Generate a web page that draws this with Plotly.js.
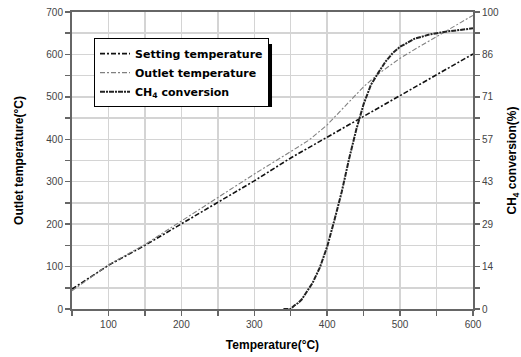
<!DOCTYPE html>
<html>
<head>
<meta charset="utf-8">
<script src="https://cdn.plot.ly/plotly-3.0.1.min.js"></script>
<style>html,body{margin:0;padding:0;background:#fff}#chart{width:521px;height:357px}</style>
</head>
<body>
<div id="chart"></div>
<script>
// Setting temperature (°C) vs temperature
var setT = [50, 100, 150, 200, 250, 300, 350, 400, 450, 500, 550, 600];
var setV = [47, 103, 150, 201, 252, 302, 356, 405, 455, 503, 552, 601];

// Outlet temperature (°C)
var outT = [50, 100, 150, 200, 250, 300, 350, 375, 400, 425, 450, 470, 500, 525, 550, 575, 600];
var outV = [43, 104, 152, 207, 264, 318, 371, 398, 434, 478, 524, 554, 591, 617, 642, 667, 692];

// CH4 conversion (%)
var convT = [340, 350, 355, 360, 365, 370, 380, 390, 400, 410, 420, 430, 440, 450, 460, 470, 480, 490, 500, 520, 540, 560, 580, 600];
var convV = [0, 0, 1.2, 2.0, 3.2, 5.0, 8.8, 14.0, 21.0, 30.0, 39.5, 50.5, 60.5, 69.0, 75.5, 79.5, 83.3, 86.2, 88.3, 91.0, 92.4, 93.3, 93.9, 94.5];

// Right axis tick labels
var y2TickVals = [0, 100/7, 200/7, 300/7, 400/7, 500/7, 600/7, 100];
var y2TickText = ['0', '14', '29', '43', '57', '71', '86', '100'];
var y2MinorVals = [50/7, 150/7, 250/7, 350/7, 450/7, 550/7, 650/7];

var tickFont = {family: 'Liberation Sans, Arial, sans-serif', size: 10, color: '#444'};
var titleFont = {family: 'Liberation Sans, Arial, sans-serif', size: 12, color: '#000', weight: 'bold'};

var traces = [
  {x: setT, y: setV, type: 'scatter', mode: 'lines', name: 'Setting temperature',
   line: {color: '#111', width: 1.6, dash: '5px,2px,2px,2px'}},
  {x: outT, y: outV, type: 'scatter', mode: 'lines', name: 'Outlet temperature',
   line: {color: '#808080', width: 1.1, dash: '5px,2px,2px,2px'}},
  {x: convT, y: convV, type: 'scatter', mode: 'lines', name: 'CH<sub>4</sub> conversion', yaxis: 'y2',
   line: {color: '#222', width: 2, dash: '5px,1px,2px,1px'}}
];

var axisLine = '#666';
var layout = {
  width: 521, height: 357,
  margin: {l: 72, r: 48, t: 12, b: 48, pad: 0},
  paper_bgcolor: '#fff', plot_bgcolor: '#fff',
  showlegend: true,
  legend: {
    x: 0.0549, y: 0.912, xanchor: 'left', yanchor: 'top',
    bgcolor: '#fff', bordercolor: '#000', borderwidth: 1,
    font: {family: 'DejaVu Sans, sans-serif', size: 11, color: '#000', weight: 'bold'},
    tracegroupgap: 0, itemwidth: 30
  },
  xaxis: {
    range: [50, 600], tick0: 0, dtick: 100,
    showline: true, linecolor: axisLine, linewidth: 2, mirror: true,
    ticks: 'outside', ticklen: 5, tickcolor: axisLine, tickwidth: 1.5,
    showgrid: true, gridcolor: '#d4d4d4', gridwidth: 1.5, zeroline: false,
    minor: {dtick: 50, ticks: 'outside', ticklen: 5, tickcolor: axisLine, showgrid: true, gridcolor: '#d4d4d4', gridwidth: 1.5},
    tickfont: tickFont,
    title: {text: 'Temperature(°C)', font: titleFont, standoff: 12}
  },
  yaxis: {
    range: [0, 700], tick0: 0, dtick: 100,
    showline: true, linecolor: axisLine, linewidth: 2,
    ticks: 'outside', ticklen: 5, tickcolor: axisLine, tickwidth: 1.5,
    showgrid: true, gridcolor: '#d4d4d4', gridwidth: 1.5, zeroline: false,
    minor: {dtick: 50, ticks: 'outside', ticklen: 5, tickcolor: axisLine, showgrid: true, gridcolor: '#d4d4d4', gridwidth: 1.5},
    tickfont: tickFont,
    title: {text: 'Outlet temperature(°C)', font: titleFont, standoff: 20}
  },
  yaxis2: {
    overlaying: 'y', side: 'right', range: [0, 100],
    tickmode: 'array', tickvals: y2TickVals, ticktext: y2TickText,
    showline: true, linecolor: axisLine, linewidth: 2,
    ticks: 'outside', ticklen: 5, tickcolor: axisLine, tickwidth: 1.5,
    showgrid: false, zeroline: false,
    minor: {tickmode: 'array', tickvals: y2MinorVals, ticks: 'outside', ticklen: 5, tickcolor: axisLine, showgrid: false},
    tickfont: tickFont,
    title: {text: 'CH<sub>4</sub> conversion(%)', font: titleFont, standoff: 12}
  },
  shapes: [
    {type: 'rect', xref: 'paper', yref: 'paper', x0: 0.067, x1: 0.4988, y0: 0.680, y1: 0.892,
     fillcolor: '#000', line: {width: 0}, layer: 'above'}
  ]
};

Plotly.newPlot('chart', traces, layout, {displayModeBar: false, staticPlot: true});
</script>
</body>
</html>
